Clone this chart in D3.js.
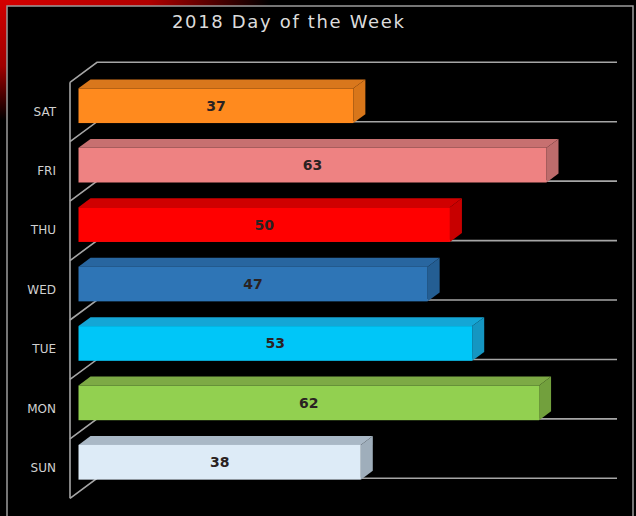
<!DOCTYPE html>
<html>
<head>
<meta charset="utf-8">
<script src="https://cdn.jsdelivr.net/npm/d3@7"></script>
<style>
  html, body { margin: 0; padding: 0; background: #000; }
  svg { display: block; }
</style>
</head>
<body>
<div id="chart"></div>
<script>
// ---- data ----
const title = "2018 Day of the Week";
const categories = ["SAT", "FRI", "THU", "WED", "TUE", "MON", "SUN"];
const values = [37, 63, 50, 47, 53, 62, 38];
const frontColors = ["#FF8A1E", "#EE8282", "#FF0000", "#2E75B6", "#00C6F8", "#92D050", "#DDEBF7"];
const topColors   = ["#D9771C", "#C77070", "#D00000", "#2866A0", "#14A6D6", "#7DAA45", "#A9B8C6"];
const sideColors  = ["#D8761A", "#BE6C6C", "#C80000", "#245E93", "#1596C2", "#72A03D", "#9FAEBB"];
const axisMax = 70;

// ---- layout ----
const W = 636, H = 516;
const DX = 27, DY = 20;          // oblique depth vector (front -> back)
const X0 = 70;                    // front-plane zero x
const f1 = 8.5 / DX, f2 = f1 + 12 / DX; // bar depth range
const barHalf = 17.35;

const svg = d3.select("#chart").append("svg")
  .attr("width", W).attr("height", H);

const defs = svg.append("defs");
const gTop = defs.append("linearGradient").attr("id", "glowTop")
  .attr("gradientUnits", "userSpaceOnUse").attr("x1", 0).attr("y1", 0).attr("x2", 270).attr("y2", 0);
gTop.append("stop").attr("offset", "0").attr("stop-color", "#d40000");
gTop.append("stop").attr("offset", "0.55").attr("stop-color", "#b00000");
gTop.append("stop").attr("offset", "1").attr("stop-color", "#000");
const gLeft = defs.append("linearGradient").attr("id", "glowLeft")
  .attr("gradientUnits", "userSpaceOnUse").attr("x1", 0).attr("y1", 0).attr("x2", 0).attr("y2", 120);
gLeft.append("stop").attr("offset", "0").attr("stop-color", "#d40000");
gLeft.append("stop").attr("offset", "0.55").attr("stop-color", "#a00000");
gLeft.append("stop").attr("offset", "1").attr("stop-color", "#000");

svg.append("rect").attr("width", W).attr("height", H).attr("fill", "#000");
svg.append("rect").attr("width", W).attr("height", 7).attr("fill", "url(#glowTop)");
svg.append("rect").attr("width", 8).attr("height", H).attr("fill", "url(#glowLeft)");
svg.append("rect").attr("x", 7).attr("y", 6).attr("width", 626).attr("height", 530)
  .attr("fill", "#000").attr("stroke", "#9c9c9c").attr("stroke-width", 1.5);

const xs = d3.scaleLinear().domain([0, axisMax]).range([0, 520]);
const yb = d3.scaleBand().domain(categories).range([62.3, 478.3]).paddingInner(0).paddingOuter(0);
const bw = yb.bandwidth();

function P(xpx, yback, f) { return [X0 + DX * f + xpx, yback + DY * (1 - f)]; }

// title
svg.append("text").attr("x", 288).attr("y", 23)
  .attr("text-anchor", "middle").attr("dominant-baseline", "middle")
  .attr("font-family", "DejaVu Sans, sans-serif").attr("font-size", 18)
  .attr("textLength", 232).attr("lengthAdjust", "spacing")
  .attr("fill", "#dcdcdc").text(title);

// walls / gridlines
const boundaries = categories.map(c => yb(c)).concat([yb(categories[categories.length - 1]) + bw]);
const wall = svg.append("g").attr("stroke", "#a6a6a6").attr("stroke-width", 1.6).attr("fill", "none");
wall.append("line")
  .attr("x1", P(0, boundaries[0], 0)[0]).attr("y1", P(0, boundaries[0], 0)[1])
  .attr("x2", P(0, boundaries[7], 0)[0]).attr("y2", P(0, boundaries[7], 0)[1]);
boundaries.forEach(yB => {
  const a = P(0, yB, 0), b = P(0, yB, 1), c = P(xs(axisMax), yB, 1);
  wall.append("polyline").attr("points", [a, b, c].map(p => p.join(",")).join(" "));
});

// bars
const bars = svg.append("g");
categories.forEach((cat, i) => {
  const v = values[i];
  const cy = yb(cat) + bw / 2;
  const yt = cy - barHalf, ybt = cy + barHalf;
  const xe = xs(v);
  const g = bars.append("g");
  const pts = arr => arr.map(p => p.join(",")).join(" ");
  // top face
  g.append("polygon").attr("fill", topColors[i])
    .attr("points", pts([P(0, yt, f1), P(xe, yt, f1), P(xe, yt, f2), P(0, yt, f2)]));
  // side face
  g.append("polygon").attr("fill", sideColors[i])
    .attr("points", pts([P(xe, yt, f1), P(xe, yt, f2), P(xe, ybt, f2), P(xe, ybt, f1)]));
  // front face
  const a = P(0, yt, f1), b = P(xe, ybt, f1);
  g.append("rect").attr("x", a[0]).attr("y", a[1])
    .attr("width", b[0] - a[0]).attr("height", b[1] - a[1]).attr("fill", frontColors[i]);
  // value label
  g.append("text").attr("x", (a[0] + b[0]) / 2).attr("y", (a[1] + b[1]) / 2 + 1)
    .attr("text-anchor", "middle").attr("dominant-baseline", "middle")
    .attr("font-family", "DejaVu Sans, sans-serif").attr("font-weight", "bold")
    .attr("font-size", 14).attr("fill", "#2a2222").text(v);
  // category label
  svg.append("text").attr("x", 56).attr("y", cy + DY)
    .attr("text-anchor", "end").attr("dominant-baseline", "middle")
    .attr("font-family", "DejaVu Sans, sans-serif").attr("font-size", 12)
    .attr("fill", "#d0d0d0").text(cat);
});
</script>
</body>
</html>
